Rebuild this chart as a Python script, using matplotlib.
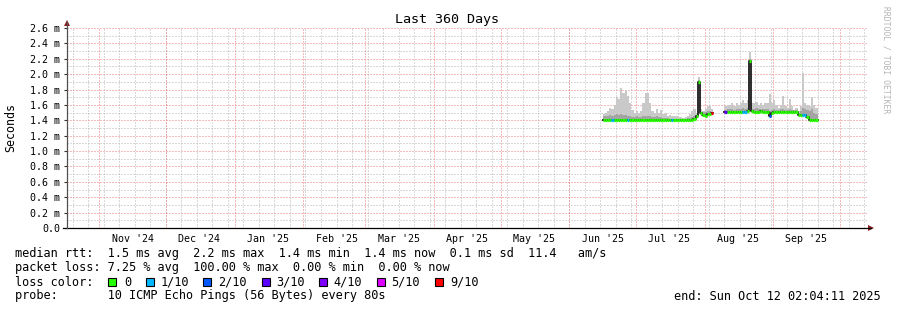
import matplotlib
matplotlib.use('Agg')
import matplotlib.pyplot as plt
import matplotlib.dates as mdates
import numpy as np
from datetime import datetime, timedelta
from matplotlib.patches import Polygon, Rectangle

W, H, DPI = 897, 310, 100

# ---------------- data ----------------
seg_a_start = datetime(2025, 6, 16)
seg_a_median = [1.40, 1.40, 1.40, 1.40, 1.40, 1.40, 1.40, 1.40, 1.40, 1.40,
                1.40, 1.40, 1.40, 1.40, 1.40, 1.40, 1.40, 1.40, 1.40, 1.40,
                1.40, 1.40, 1.40, 1.40, 1.40, 1.40, 1.40, 1.40, 1.40, 1.40,
                1.40, 1.40, 1.40, 1.40, 1.40, 1.40, 1.40, 1.40, 1.40, 1.40,
                1.41, 1.42, 1.45, 1.90, 1.49, 1.47, 1.46, 1.48, 1.48, 1.49]
seg_a_smoke_top = [1.48, 1.50, 1.52, 1.56, 1.55, 1.60, 1.70, 1.68, 1.82, 1.75,
                   1.79, 1.72, 1.62, 1.53, 1.50, 1.52, 1.50, 1.52, 1.62, 1.75,
                   1.76, 1.62, 1.52, 1.50, 1.55, 1.50, 1.53, 1.48, 1.49, 1.46,
                   1.47, 1.46, 1.45, 1.45, 1.44, 1.44, 1.43, 1.44, 1.45, 1.48,
                   1.52, 1.55, 1.50, 1.96, 1.55, 1.52, 1.55, 1.58, 1.60, 1.55]
seg_a_smoke_mid = [1.45, 1.46, 1.46, 1.47, 1.46, 1.47, 1.48, 1.47, 1.48, 1.47,
                   1.47, 1.46, 1.45, 1.44, 1.44, 1.45, 1.44, 1.44, 1.45, 1.46,
                   1.46, 1.45, 1.44, 1.44, 1.45, 1.44, 1.44, 1.43, 1.43, 1.43,
                   1.42, 1.42, 1.42, 1.42, 1.42, 1.42, 1.42, 1.42, 1.43, 1.43,
                   1.44, 1.45, 1.47, 1.92, 1.51, 1.51, 1.51, 1.52, 1.52, 1.51]
seg_a_loss = [0, 0, 0, 0, 1, 0, 0, 0, 0, 0,
              0, 1, 0, 0, 0, 0, 0, 0, 0, 0,
              0, 0, 0, 0, 0, 0, 0, 0, 0, 0,
              0, 1, 0, 0, 0, 0, 0, 0, 0, 0,
              0, 0, 0, 0, 0, 0, 0, 0, 0, 9]

seg_b_start = datetime(2025, 8, 10)
seg_b_median = [1.51, 1.51, 1.51, 1.51, 1.51, 1.51, 1.51, 1.51, 1.51, 1.51,
                1.52, 2.17, 1.52, 1.51, 1.51, 1.51, 1.52, 1.51, 1.51, 1.51,
                1.45, 1.49, 1.51, 1.51, 1.51, 1.51, 1.51, 1.51, 1.51, 1.51,
                1.51, 1.51, 1.51, 1.47, 1.47, 1.47, 1.47, 1.44, 1.41, 1.41,
                1.41, 1.41]
seg_b_smoke_top = [1.58, 1.60, 1.60, 1.62, 1.58, 1.62, 1.60, 1.62, 1.66, 1.62,
                   1.66, 2.29, 1.63, 1.62, 1.64, 1.60, 1.62, 1.60, 1.62, 1.62,
                   1.74, 1.62, 1.66, 1.60, 1.56, 1.60, 1.71, 1.58, 1.56, 1.68,
                   1.58, 1.54, 1.56, 1.52, 1.58, 2.02, 1.62, 1.60, 1.58, 1.70,
                   1.60, 1.56]
seg_b_smoke_mid = [1.54, 1.55, 1.55, 1.55, 1.54, 1.55, 1.55, 1.55, 1.56, 1.55,
                   1.56, 2.20, 1.55, 1.55, 1.56, 1.55, 1.55, 1.55, 1.55, 1.55,
                   1.52, 1.53, 1.55, 1.54, 1.54, 1.55, 1.55, 1.54, 1.54, 1.55,
                   1.54, 1.53, 1.53, 1.50, 1.52, 1.56, 1.55, 1.54, 1.52, 1.55,
                   1.50, 1.48]
seg_b_loss = [3, 0, 0, 0, 0, 0, 0, 0, 1, 1,
              0, 0, 0, 0, 0, 0, 0, 0, 0, 0,
              2, 0, 0, 0, 0, 0, 0, 0, 0, 0,
              0, 0, 0, 0, 0, 1, 1, 0, 0, 0,
              0, 0]

month_labels = ["Nov '24", "Dec '24", "Jan '25", "Feb '25", "Mar '25", "Apr '25",
                "May '25", "Jun '25", "Jul '25", "Aug '25", "Sep '25"]
month_starts = [datetime(2024, 11, 1), datetime(2024, 12, 1), datetime(2025, 1, 1),
                datetime(2025, 2, 1), datetime(2025, 3, 1), datetime(2025, 4, 1),
                datetime(2025, 5, 1), datetime(2025, 6, 1), datetime(2025, 7, 1),
                datetime(2025, 8, 1), datetime(2025, 9, 1), datetime(2025, 10, 1)]
y_ticks = [0.0, 0.2, 0.4, 0.6, 0.8, 1.0, 1.2, 1.4, 1.6, 1.8, 2.0, 2.2, 2.4, 2.6]
y_tick_labels = ["0.0", "0.2 m", "0.4 m", "0.6 m", "0.8 m", "1.0 m", "1.2 m",
                 "1.4 m", "1.6 m", "1.8 m", "2.0 m", "2.2 m", "2.4 m", "2.6 m"]

loss_levels = [0, 1, 2, 3, 4, 5, 9]
loss_names = ["0", "1/10", "2/10", "3/10", "4/10", "5/10", "9/10"]
loss_colors = ["#26ff00", "#00b8ff", "#0059ff", "#5e00ff", "#7e00ff", "#dd00ff", "#ff0000"]

title = "Last 360 Days"
stats_rtt = "median rtt:  1.5 ms avg  2.2 ms max  1.4 ms min  1.4 ms now  0.1 ms sd  11.4   am/s"
stats_loss = "packet loss: 7.25 % avg  100.00 % max  0.00 % min  0.00 % now"
probe_text = "probe:       10 ICMP Echo Pings (56 Bytes) every 80s"
end_text = "end: Sun Oct 12 02:04:11 2025"

x_start = datetime(2024, 10, 17, 10, 19)
x_end = datetime(2025, 10, 13, 7, 12)

# ---------------- figure ----------------
MONO = 'DejaVu Sans Mono'
plt.rcParams['font.family'] = MONO

fig = plt.figure(figsize=(W / DPI, H / DPI), dpi=DPI)
fig.patch.set_facecolor('white')

L, R, T, B = 67, 867, 28, 228
ax = fig.add_axes([L / W, 1 - B / H, (R - L) / W, (B - T) / H])
ax.set_facecolor('white')
ax.set_xlim(mdates.date2num(x_start), mdates.date2num(x_end))
ax.set_ylim(0, 2.6)

minor_c = '#b4b4b4'
major_c = '#f07878'
dash = (0, (1, 2))
gkw = dict(lw=0.72, ls=dash, antialiased=True, snap=True)

# horizontal grid
for k in range(1, 27, 2):
    ax.axhline(k * 0.1, color=minor_c, zorder=1, **gkw)
for v in y_ticks[1:]:
    ax.axhline(v, color=major_c, zorder=1.1, **gkw)

# vertical weekly grid (Sundays) and monthly major grid
wk = datetime(2024, 10, 20)
while wk < x_end:
    ax.axvline(mdates.date2num(wk), color=minor_c, zorder=1, **gkw)
    wk += timedelta(days=7)
for m in month_starts:
    ax.axvline(mdates.date2num(m), color=major_c, zorder=1.1, **gkw)

color_of = dict(zip(loss_levels, loss_colors))


def draw_segment(start, median, top, mid, loss):
    n = len(median)
    x0 = mdates.date2num(start)
    edges = x0 + np.arange(n + 1)
    med = np.array(median)
    top_e = np.append(top, top[-1])
    mid_e = np.append(mid, mid[-1])
    med_e = np.append(med, med[-1])
    ax.fill_between(edges, med_e - 0.01, top_e, step='post', color='#c9c9c9', lw=0, zorder=2)
    ax.fill_between(edges, med_e - 0.01, mid_e, step='post', color='#a4a4a4', lw=0, zorder=2.1)
    ax.step(edges, med_e, where='post', color='#1a1a1a', lw=1.3, zorder=3)
    cols = [color_of[l] for l in loss]
    ax.hlines(med, edges[:-1], edges[1:], colors=cols, lw=2.3, zorder=4, capstyle='butt')


draw_segment(seg_a_start, seg_a_median, seg_a_smoke_top, seg_a_smoke_mid, seg_a_loss)
draw_segment(seg_b_start, seg_b_median, seg_b_smoke_top, seg_b_smoke_mid, seg_b_loss)

# axes styling
for s in ['top', 'right', 'bottom', 'left']:
    ax.spines[s].set_visible(False)

label_pos = [mdates.date2num(m) + 15 for m in month_starts[:-1]]
ax.set_xticks(label_pos)
ax.set_xticklabels(month_labels, fontsize=7.2, family=MONO)
ax.tick_params(axis='x', length=0, pad=4.2, colors='#000000')
ax.set_yticks(y_ticks)
ax.set_yticklabels(y_tick_labels, fontsize=7.2, family=MONO)
ax.tick_params(axis='y', length=2.5, width=0.8, pad=2.6, colors='#303030', labelcolor='#000000')


def px(x, y):
    return (x / W, 1 - y / H)


fig.add_artist(plt.Line2D([px(63, 0)[0], px(871, 0)[0]], [px(0, 228)[1]] * 2,
                          color='black', lw=0.9, transform=fig.transFigure))
fig.add_artist(plt.Line2D([px(67, 0)[0]] * 2, [px(0, 228)[1], px(0, 22)[1]],
                          color='#505050', lw=0.9, transform=fig.transFigure))
arrow_c = '#8a1c1c'
fig.add_artist(Polygon([px(64, 26), px(70, 26), px(67, 20)], closed=True,
                       transform=fig.transFigure, color=arrow_c, lw=0))
fig.add_artist(Polygon([px(868, 225), px(868, 231), px(874, 228)], closed=True,
                       transform=fig.transFigure, color=arrow_c, lw=0))


def ftext(x, y, s, **kw):
    fig.text(x / W, 1 - y / H, s, **kw)


ftext(447, 19, title, fontsize=9.6, ha='center', va='center', family=MONO)
ftext(11, 127, "Seconds", fontsize=8.4, rotation=90, ha='center', va='center', family=MONO)
ftext(886, 60, "RRDTOOL / TOBI OETIKER", fontsize=5.8, rotation=270, ha='center',
      va='center', color='#b4b4b4', family=MONO)

LEG = 8.6
ftext(15, 254, stats_rtt, fontsize=LEG, ha='left', va='center', family=MONO)
ftext(15, 268, stats_loss, fontsize=LEG, ha='left', va='center', family=MONO)
ftext(15, 282, "loss color:", fontsize=LEG, ha='left', va='center', family=MONO)
ftext(15, 296, probe_text, fontsize=LEG, ha='left', va='center', family=MONO)
ftext(881, 296, end_text, fontsize=LEG, ha='right', va='center', family=MONO)

box_x = [108, 146, 203, 262, 319, 377, 435]
text_x = [124, 161, 218, 276, 333, 391, 450]
for bx, tx, name, c in zip(box_x, text_x, loss_names, loss_colors):
    fig.add_artist(Rectangle(px(bx, 286), 8 / W, 8 / H, transform=fig.transFigure,
                             facecolor=c, edgecolor='black', lw=0.8))
    ftext(tx, 282, name, fontsize=LEG, ha='left', va='center', family=MONO)

fig.savefig('out.png', dpi=DPI, facecolor='white')
